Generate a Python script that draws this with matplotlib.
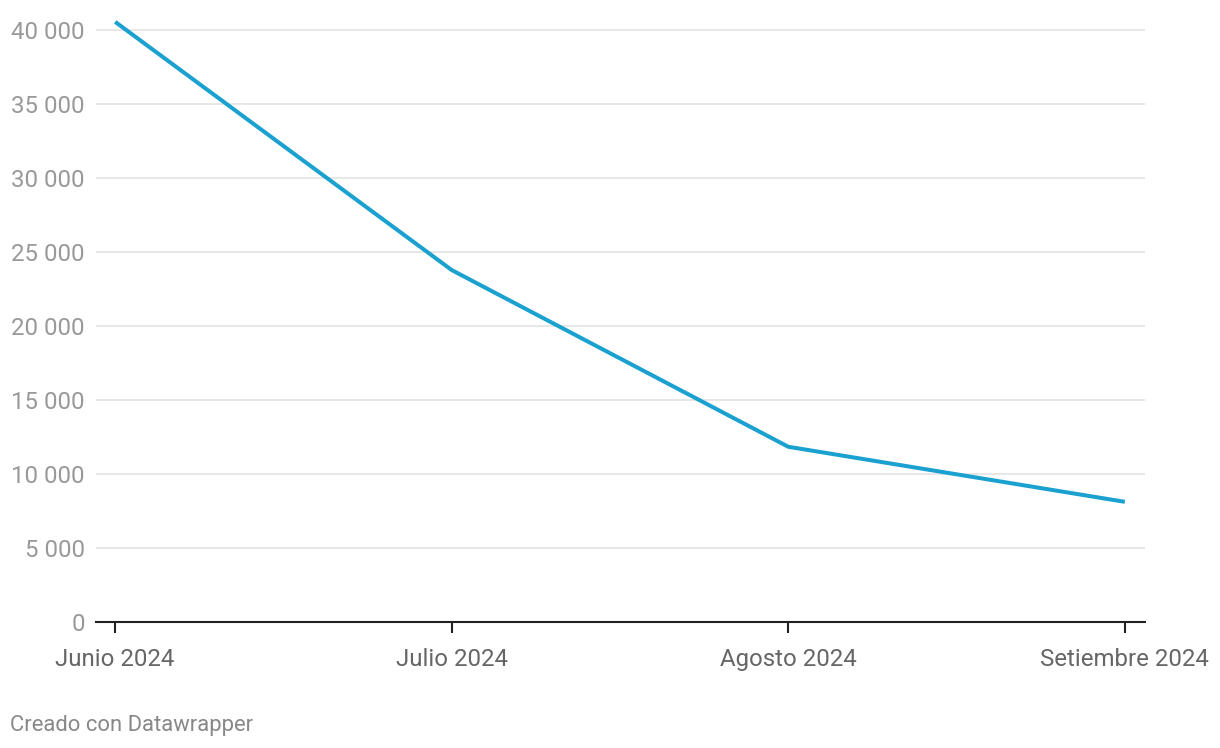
import matplotlib
matplotlib.use('Agg')
import matplotlib.pyplot as plt
from matplotlib.ticker import FuncFormatter

plt.rcParams['font.family'] = ['Roboto', 'DejaVu Sans']

# data
months = ["Junio 2024", "Julio 2024", "Agosto 2024", "Setiembre 2024"]
values = [40550, 23780, 11840, 8120]
yticks = [0, 5000, 10000, 15000, 20000, 25000, 30000, 35000, 40000]

fig = plt.figure(figsize=(12.2, 7.48), dpi=100)
ax = fig.add_axes([96 / 1220, 126 / 748, (1145 - 96) / 1220, (622 - 15) / 748])

x = list(range(len(months)))
ax.plot(x, values, color='#1ba1d0', lw=2.9, solid_capstyle='butt', zorder=3)

ax.set_xlim(-0.057, 3.06)
ax.set_ylim(0, 41014)
ax.set_yticks(yticks)
ax.yaxis.set_major_formatter(FuncFormatter(lambda v, p: f"{int(v):,}".replace(",", " ")))
ax.grid(axis='y', color='#e3e3e3', lw=1.2)
ax.set_axisbelow(True)

for s in ['top', 'right', 'left']:
    ax.spines[s].set_visible(False)
ax.spines['bottom'].set_color('#222222')
ax.spines['bottom'].set_linewidth(1.5)
ax.spines['bottom'].set_zorder(4)

ax.set_xticks(x)
ax.set_xticklabels(months)
ax.tick_params(axis='x', length=8, width=1.5, color='#222222', labelsize=17.3,
               labelcolor='#666666', pad=10.5)
ax.tick_params(axis='y', length=0, labelsize=17.3, labelcolor='#999999', pad=8)

fig.text(10 / 1220, 1 - 726 / 748, "Creado con Datawrapper", fontsize=15.8,
         color='#888888', va='center', ha='left')

fig.savefig('out.png', dpi=100, facecolor='white')
